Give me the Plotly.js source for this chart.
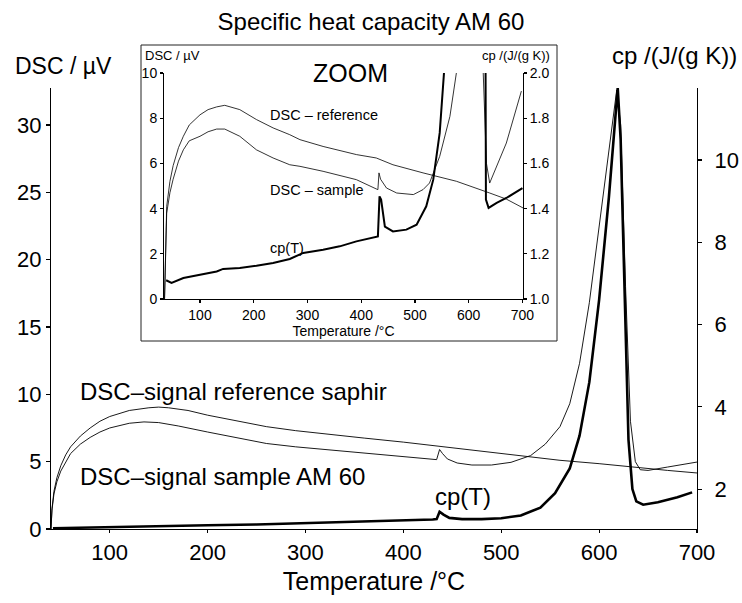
<!DOCTYPE html>
<html>
<head>
<meta charset="utf-8">
<script src="https://cdn.plot.ly/plotly-3.0.1.min.js"></script>
<style>html,body{margin:0;padding:0;background:#fff}#chart{width:742px;height:603px}</style>
</head>
<body>
<div id="chart"></div>
<script>
// ---------- main chart data ----------
var refMainT = [40, 41, 43, 46, 50, 55, 60, 70, 80, 90, 100, 120, 140, 150, 160, 180, 200, 230, 260, 290, 320, 360, 400, 440, 480, 520, 560, 600, 640, 670, 700];
var refMain  = [0, 1.5, 2.8, 3.8, 4.7, 5.5, 6.1, 6.9, 7.5, 8.0, 8.35, 8.8, 9.0, 9.05, 9.0, 8.8, 8.45, 8.0, 7.6, 7.3, 7.05, 6.75, 6.45, 6.1, 5.75, 5.4, 5.1, 4.85, 4.55, 4.35, 4.16];

var sampleMainT = [40, 41, 43, 46, 50, 55, 60, 70, 80, 90, 100, 120, 135, 150, 170, 200, 230, 260, 290, 320, 360, 400, 430, 434, 437, 440, 445, 455, 470, 490, 510, 530, 545, 560, 570, 580, 590, 600, 610, 618, 622, 627, 632, 637, 642, 650, 670, 700];
var sampleMain  = [0, 1.4, 2.6, 3.5, 4.3, 5.0, 5.6, 6.3, 6.8, 7.2, 7.5, 7.85, 7.95, 7.9, 7.65, 7.2, 6.75, 6.35, 6.1, 5.9, 5.65, 5.4, 5.15, 5.15, 5.9, 5.6, 5.2, 4.9, 4.75, 4.75, 4.95, 5.45, 6.3, 7.6, 9.3, 12.3, 16.8, 22.3, 28.0, 32.6, 30.0, 18.0, 8.0, 5.0, 4.4, 4.35, 4.6, 4.97];

var cpMainT = [42, 60, 100, 150, 200, 250, 300, 350, 400, 430, 434, 437, 441, 447, 460, 480, 500, 520, 540, 555, 570, 580, 590, 600, 610, 619, 622, 626, 630, 634, 638, 645, 660, 680, 695];
var cpMain  = [1.05, 1.06, 1.08, 1.1, 1.12, 1.14, 1.17, 1.2, 1.23, 1.26, 1.27, 1.45, 1.38, 1.3, 1.27, 1.27, 1.29, 1.36, 1.55, 1.9, 2.5, 3.3, 4.6, 6.6, 9.1, 11.75, 10.5, 6.5, 3.2, 2.0, 1.7, 1.62, 1.68, 1.8, 1.92];

// ---------- inset (ZOOM) data ----------
var refZoomT = [34, 38, 44, 50, 60, 69, 80, 100, 115, 131, 146, 174, 205, 236, 267, 286, 329, 391, 428, 459, 515, 577, 639, 670, 701];
var refZoom  = [0, 4.1, 5.2, 5.9, 6.7, 7.2, 7.7, 8.15, 8.38, 8.5, 8.57, 8.38, 7.94, 7.57, 7.27, 7.05, 6.75, 6.39, 6.24, 5.94, 5.58, 5.21, 4.69, 4.42, 4.03];

var sampleZoomT = [34, 38, 44, 50, 60, 69, 80, 100, 115, 131, 146, 174, 205, 236, 267, 286, 329, 391, 428, 431, 433, 436, 447, 466, 497, 515, 527, 546, 565, 577, 600, 627, 633, 639, 670, 698];
var sampleZoom  = [0, 3.8, 4.7, 5.3, 6.1, 6.6, 7.0, 7.2, 7.4, 7.52, 7.52, 7.2, 6.6, 6.24, 5.94, 5.87, 5.65, 5.28, 4.87, 4.84, 5.58, 5.3, 4.91, 4.69, 4.62, 4.84, 5.13, 6.31, 8.08, 10.0, 20, 10.0, 6.0, 5.13, 6.9, 9.2];

var cpZoomT = [37, 47, 69, 100, 131, 143, 174, 205, 236, 267, 292, 329, 360, 391, 422, 431, 434, 437, 444, 459, 484, 503, 521, 534, 546, 554, 560, 620, 632, 637, 652, 670, 700];
var cpZoom  = [1.083, 1.071, 1.093, 1.108, 1.122, 1.133, 1.137, 1.147, 1.159, 1.177, 1.204, 1.218, 1.233, 1.255, 1.274, 1.277, 1.454, 1.44, 1.32, 1.299, 1.307, 1.329, 1.41, 1.528, 1.735, 2.0, 2.2, 12, 1.44, 1.403, 1.425, 1.447, 1.491];

// ---------- tick labels ----------
var tempTicks = [100, 200, 300, 400, 500, 600, 700];
var dscTicksMain = [0, 5, 10, 15, 20, 25, 30];
var cpTicksMain = [2, 4, 6, 8, 10];
var dscTicksZoom = [0, 2, 4, 6, 8, 10];
var cpTicksZoom = [1.0, 1.2, 1.4, 1.6, 1.8, 2.0];

var FONT = 'Liberation Sans, Arial, Helvetica, sans-serif';
var thin = {color: '#000', width: 0.9};
var thick = {color: '#000', width: 2.6};

var traces = [
  {x: refMainT, y: refMain, xaxis: 'x', yaxis: 'y', mode: 'lines', line: thin, name: 'DSC-signal reference saphir'},
  {x: sampleMainT, y: sampleMain, xaxis: 'x', yaxis: 'y', mode: 'lines', line: thin, name: 'DSC-signal sample AM 60'},
  {x: cpMainT, y: cpMain, xaxis: 'x', yaxis: 'y2', mode: 'lines', line: thick, name: 'cp(T)'},
  {x: refZoomT, y: refZoom, xaxis: 'x2', yaxis: 'y3', mode: 'lines', line: {color: '#000', width: 0.8}, name: 'DSC - reference'},
  {x: sampleZoomT, y: sampleZoom, xaxis: 'x2', yaxis: 'y3', mode: 'lines', line: {color: '#000', width: 0.8}, name: 'DSC - sample'},
  {x: cpZoomT, y: cpZoom, xaxis: 'x2', yaxis: 'y4', mode: 'lines', line: {color: '#000', width: 2.0}, name: 'cp(T) zoom'}
];

// pixel helpers (plot area: x 51..697, y 45..529)
var L = 51, R = 697, T = 45, B = 529;
function px(x){ return (x - L) / (R - L); }
function py(y){ return (B - y) / (B - T); }

var axBase = {showgrid: false, zeroline: false, showline: true, linecolor: '#000', linewidth: 1.2,
  ticks: 'outside', ticklen: 4, tickcolor: '#000', tickwidth: 1.2};

var layout = {
  width: 742, height: 603,
  margin: {l: L, r: 742 - R, t: T, b: 603 - B},
  paper_bgcolor: '#fff', plot_bgcolor: 'rgba(0,0,0,0)',
  showlegend: false,
  font: {family: FONT, color: '#000'},
  title: {text: 'Specific heat capacity AM 60', font: {size: 24, family: FONT, color: '#000'},
          x: 0.5, xref: 'container', y: 1 - 22 / 603, yref: 'container', yanchor: 'middle'},
  xaxis: Object.assign({}, axBase, {range: [40, 700], domain: [0, 1], anchor: 'y', ticklen: 3,
    tickvals: tempTicks, tickfont: {size: 22, family: FONT},
    title: {text: 'Temperature /°C', font: {size: 25, family: FONT}, standoff: 9}}),
  yaxis: Object.assign({}, axBase, {range: [0, 32.74], domain: [0, py(88)], anchor: 'x',
    tickvals: dscTicksMain, tickfont: {size: 22, family: FONT}}),
  yaxis2: Object.assign({}, axBase, {range: [1.03, 11.75], overlaying: 'y', side: 'right', anchor: 'x',
    tickvals: cpTicksMain, tickfont: {size: 22, family: FONT}, ticklabelstandoff: 8}),
  xaxis2: Object.assign({}, axBase, {range: [33, 701], domain: [px(164), px(523)], anchor: 'y3',
    linewidth: 1, ticklen: 3, tickvals: tempTicks, tickfont: {size: 14, family: FONT},
    title: {text: 'Temperature /°C', font: {size: 14, family: FONT}, standoff: 4}}),
  yaxis3: Object.assign({}, axBase, {range: [0, 10], domain: [py(299), py(73)], anchor: 'x2',
    linewidth: 1, ticklen: 3, tickvals: dscTicksZoom, tickfont: {size: 14, family: FONT}}),
  yaxis4: Object.assign({}, axBase, {range: [1.0, 2.0], overlaying: 'y3', side: 'right', anchor: 'x2',
    linewidth: 1, ticklen: 3, tickvals: cpTicksZoom, tickformat: '.1f', tickfont: {size: 14, family: FONT}}),
  shapes: [
    {type: 'rect', xref: 'paper', yref: 'paper', x0: px(141), x1: px(557), y0: py(341), y1: py(45),
     line: {color: '#222', width: 1}, fillcolor: 'rgba(0,0,0,0)', layer: 'below'}
  ],
  annotations: [
    {xref: 'paper', yref: 'paper', x: px(13), y: py(66), xanchor: 'left', yanchor: 'middle', showarrow: false,
     text: 'DSC / µV', font: {size: 23, family: FONT}},
    {xref: 'paper', yref: 'paper', x: px(739), y: py(56), xanchor: 'right', yanchor: 'middle', showarrow: false,
     text: 'cp /(J/(g K))', font: {size: 24, family: FONT}},
    {xref: 'paper', yref: 'paper', x: px(78), y: py(391), xanchor: 'left', yanchor: 'middle', showarrow: false,
     text: 'DSC–signal reference saphir', font: {size: 24, family: FONT}},
    {xref: 'paper', yref: 'paper', x: px(78), y: py(476), xanchor: 'left', yanchor: 'middle', showarrow: false,
     text: 'DSC–signal sample AM 60', font: {size: 24, family: FONT}},
    {xref: 'paper', yref: 'paper', x: px(463), y: py(496), xanchor: 'center', yanchor: 'middle', showarrow: false,
     text: 'cp(T)', font: {size: 24, family: FONT}},
    // inset labels
    {xref: 'paper', yref: 'paper', x: px(143), y: py(55), xanchor: 'left', yanchor: 'middle', showarrow: false,
     text: 'DSC / µV', font: {size: 13, family: FONT}},
    {xref: 'paper', yref: 'paper', x: px(552), y: py(55), xanchor: 'right', yanchor: 'middle', showarrow: false,
     text: 'cp /(J/(g K))', font: {size: 13, family: FONT}},
    {xref: 'paper', yref: 'paper', x: px(350), y: py(73), xanchor: 'center', yanchor: 'middle', showarrow: false,
     text: 'ZOOM', font: {size: 25, family: FONT}},
    {xref: 'paper', yref: 'paper', x: px(268), y: py(115), xanchor: 'left', yanchor: 'middle', showarrow: false,
     text: 'DSC – reference', font: {size: 14.5, family: FONT}},
    {xref: 'paper', yref: 'paper', x: px(268), y: py(190), xanchor: 'left', yanchor: 'middle', showarrow: false,
     text: 'DSC – sample', font: {size: 14.5, family: FONT}},
    {xref: 'paper', yref: 'paper', x: px(268), y: py(248), xanchor: 'left', yanchor: 'middle', showarrow: false,
     text: 'cp(T)', font: {size: 14.5, family: FONT}}
  ]
};

Plotly.newPlot('chart', traces, layout, {staticPlot: true, displayModeBar: false});
</script>
</body>
</html>
